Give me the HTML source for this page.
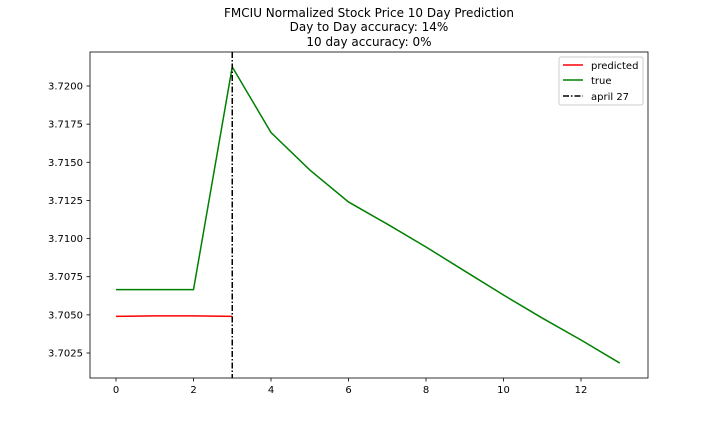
<!DOCTYPE html>
<html><head><meta charset="utf-8"><style>
body{margin:0;background:#fff;}
svg{display:block;font-family:"DejaVu Sans","Liberation Sans",sans-serif;}
</style></head><body>
<svg id="c" width="720" height="432">
<text x="369" y="17" font-size="12" text-anchor="middle">FMCIU Normalized Stock Price 10 Day Prediction</text>
<text x="369" y="31" font-size="12" text-anchor="middle">Day to Day accuracy: 14%</text>
<text x="369" y="46" font-size="12" text-anchor="middle">10 day accuracy: 0%</text>
<g id="axes"></g>
<g id="marks"></g>
<rect x="90" y="52" width="558" height="326" fill="none" stroke="#000" stroke-width="0.8"/>
<g>
<rect x="559" y="57" width="84" height="48" rx="2" fill="#fff" stroke="#ccc"/>
<line x1="563" y1="65" x2="583" y2="65" stroke="red" stroke-width="1.5"/>
<text x="591" y="69" font-size="10">predicted</text>
<line x1="563" y1="80" x2="583" y2="80" stroke="green" stroke-width="1.5"/>
<text x="591" y="84" font-size="10">true</text>
<line x1="563" y1="96" x2="583" y2="96" stroke="#000" stroke-width="1.5" stroke-dasharray="6,2,1.5,2"/>
<text x="591" y="100" font-size="10">april 27</text>
</g>
</svg>
<script>
const trueDays=[0,1,2,3,4,5,6,7,8,9,10,11,12,13];
const trueVals=[3.70665,3.70665,3.70665,3.72125,3.71695,3.7145,3.7124,3.71095,3.70945,3.70787,3.7063,3.70479,3.70335,3.70184];
const predDays=[0,1,2,3];
const predVals=[3.70490,3.70493,3.70493,3.70490];
const xTicks=[0,2,4,6,8,10,12];
const yTicks=[3.7025,3.7050,3.7075,3.7100,3.7125,3.7150,3.7175,3.7200];
const markerDay=3;
const NS="http://www.w3.org/2000/svg";
const X=d=>116+d*38.75;
const Y=v=>86+(3.72-v)*15257;
function mk(t,a,p){const e=document.createElementNS(NS,t);for(const k in a)e.setAttribute(k,a[k]);p.appendChild(e);return e;}
const ax=document.getElementById('axes'),mr=document.getElementById('marks');
xTicks.forEach(t=>{
 const l=mk('line',{x1:X(t),x2:X(t),y1:378,y2:381.5,stroke:'#000','stroke-width':0.8},ax);
 
 
 const tx=mk('text',{x:X(t),y:393,'font-size':10,'text-anchor':'middle'},ax);tx.textContent=t;
 
 
});
yTicks.forEach(t=>{
 const l=mk('line',{x1:86.5,x2:90,y1:Y(t),y2:Y(t),stroke:'#000','stroke-width':0.8},ax);
 
 
 const tx=mk('text',{x:83,y:Y(t)+3.5,'font-size':10,'text-anchor':'end'},ax);tx.textContent=t.toFixed(4);
 
 
});
const pl=mk('polyline',{points:predDays.map((d,i)=>X(d)+','+Y(predVals[i])).join(' '),fill:'none',stroke:'red','stroke-width':1.5},mr);


const tl=mk('polyline',{points:trueDays.map((d,i)=>X(d)+','+Y(trueVals[i])).join(' '),fill:'none',stroke:'green','stroke-width':1.5},mr);


const vl=mk('line',{x1:X(markerDay),x2:X(markerDay),y1:52,y2:378,stroke:'#000','stroke-width':1.5,'stroke-dasharray':'6,2,1.5,2'},mr);


</script>
</body></html>
